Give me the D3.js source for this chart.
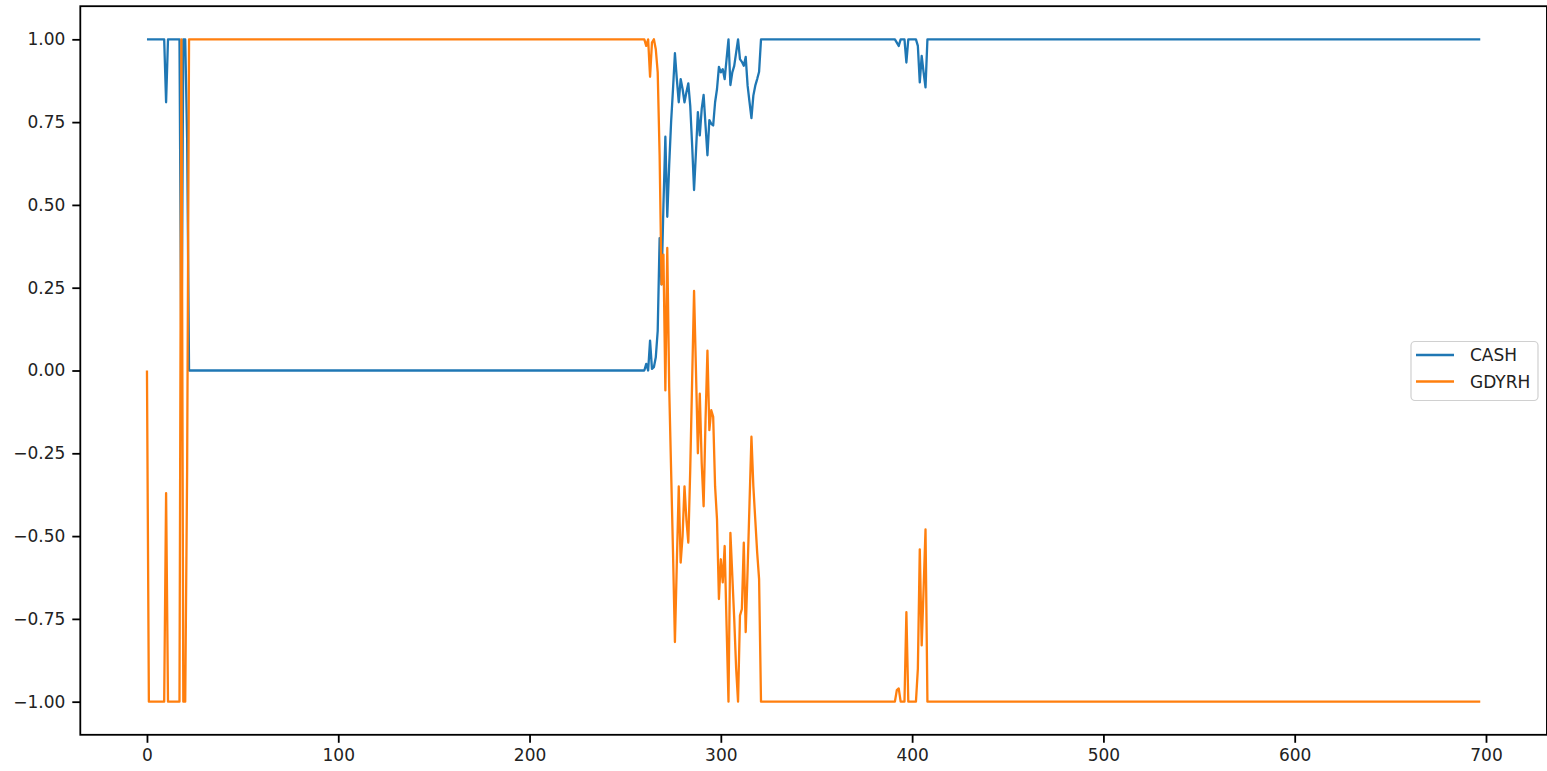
<!DOCTYPE html>
<html><head><meta charset="utf-8">
<script src="https://cdn.jsdelivr.net/npm/d3@7"></script>
<style>body{margin:0;background:#fff}svg{display:block}</style>
</head><body>
<svg id="chart" width="1547" height="771"></svg>
<script>
// Series stored as runs of [value, count] (index 0..697)
const cashRuns = [
  [1,10],[0.81,1],[1,7],[0,1],[1,2],[0.7,1],[0,239],
  [0.02,1],[0,1],[0.09,1],[0.005,1],[0.01,1],[0.04,1],[0.12,1],[0.4,1],[0.26,1],[0.5,1],
  [0.706,1],[0.464,1],[0.62,1],[0.75,1],[0.85,1],[0.958,1],[0.88,1],[0.81,1],[0.88,1],[0.85,1],
  [0.81,1],[0.84,1],[0.867,1],[0.8,1],[0.68,1],[0.545,1],[0.66,1],[0.78,1],[0.71,1],[0.79,1],
  [0.832,1],[0.74,1],[0.65,1],[0.756,1],[0.745,1],[0.74,1],[0.81,1],[0.85,1],[0.917,1],[0.9,1],
  [0.91,1],[0.88,1],[0.94,1],[1,1],[0.862,1],[0.9,1],[0.92,1],[0.96,1],[1,1],[0.94,1],
  [0.932,1],[0.92,1],[0.947,1],[0.86,1],[0.81,1],[0.762,1],[0.83,1],[0.86,1],[0.88,1],[0.902,1],
  [1,71],[0.99,1],[0.98,1],[1,3],[0.93,1],[1,5],[0.98,1],[0.87,1],[0.95,1],[0.9,1],[0.855,1],[1,290]
];
const gdyrhRuns = [
  [0,1],[-1,9],[-0.37,1],[-1,7],[1,1],[-1,2],[-0.3,1],[1,239],
  [0.98,1],[1,1],[0.887,1],[0.99,1],[1,1],[0.97,1],[0.9,1],[0.65,1],[0.26,1],[0.35,1],
  [-0.06,1],[0.37,1],[-0.05,1],[-0.3,1],[-0.55,1],[-0.82,1],[-0.58,1],[-0.35,1],[-0.58,1],[-0.5,1],
  [-0.35,1],[-0.45,1],[-0.52,1],[-0.3,1],[-0.03,1],[0.24,1],[0,1],[-0.25,1],[-0.07,1],[-0.28,1],
  [-0.41,1],[-0.15,1],[0.06,1],[-0.18,1],[-0.12,1],[-0.14,1],[-0.35,1],[-0.45,1],[-0.69,1],[-0.57,1],
  [-0.64,1],[-0.53,1],[-0.77,1],[-1,1],[-0.49,1],[-0.62,1],[-0.75,1],[-0.9,1],[-1,1],[-0.74,1],
  [-0.72,1],[-0.52,1],[-0.79,1],[-0.6,1],[-0.4,1],[-0.2,1],[-0.35,1],[-0.45,1],[-0.55,1],[-0.63,1],
  [-1,71],[-0.965,1],[-0.96,1],[-1,3],[-0.73,1],[-1,5],[-0.9,1],[-0.54,1],[-0.83,1],[-0.66,1],[-0.48,1],[-1,290]
];
const seriesNames = ["CASH", "GDYRH"];
const seriesColors = ["#1f77b4", "#ff7f0e"];
const xTicks = [0, 100, 200, 300, 400, 500, 600, 700];
const yTicks = [-1.00, -0.75, -0.50, -0.25, 0.00, 0.25, 0.50, 0.75, 1.00];

function expand(runs){ const out=[]; runs.forEach(([v,c])=>{ for(let i=0;i<c;i++) out.push(v); }); return out; }
const cash = expand(cashRuns), gdyrh = expand(gdyrhRuns);
const n = cash.length;

const svg = d3.select("#chart");
const xPad = (n-1)*0.05;
const x = d3.scaleLinear().domain([-xPad, (n-1)+xPad]).range([80.3, 80.3 + ((n-1)+2*xPad)*1.9129]);
const y = d3.scaleLinear().domain([-1.1, 1.1]).range([734.8, 6.2]);

const font = "'DejaVu Sans', sans-serif";
const line = d3.line().x((d,i)=>x(i)).y(d=>y(d));

[cash, gdyrh].forEach((s,k)=>{
  svg.append("path").datum(s).attr("d", line)
    .attr("fill","none").attr("stroke", seriesColors[k]).attr("stroke-width", 2.3)
    .attr("stroke-linejoin","round");
});

// frame
const [x0,x1] = x.range(), [y1,y0] = y.range();
svg.append("rect").attr("x",x0).attr("y",y0).attr("width",x1-x0).attr("height",y1-y0)
  .attr("fill","none").attr("stroke","#000").attr("stroke-width",1.8);

const xAxis = d3.axisBottom(x).tickValues(xTicks).tickFormat(d3.format("d")).tickSize(8).tickPadding(6);
const gx = svg.append("g").attr("transform",`translate(0,${y1})`).call(xAxis);
const yAxis = d3.axisLeft(y).tickValues(yTicks).tickFormat(d3.format(".2f")).tickSize(8).tickPadding(7);
const gy = svg.append("g").attr("transform",`translate(${x0},0)`).call(yAxis);
[gx,gy].forEach(g=>{
  g.select(".domain").remove();
  g.selectAll(".tick line").attr("stroke","#000").attr("stroke-width",1.8);
  g.selectAll(".tick text").attr("fill","#222").style("font-family",font).style("font-size","17px");
});

// legend
const lg = svg.append("g");
lg.append("rect").attr("x",1411).attr("y",341.5).attr("width",127).attr("height",59).attr("rx",4)
  .attr("fill","#fff").attr("fill-opacity",0.8).attr("stroke","#d0d0d0").attr("stroke-width",1.2);
seriesNames.forEach((name,k)=>{
  const cy = 355 + k*26.5;
  lg.append("line").attr("x1",1416).attr("x2",1454).attr("y1",cy).attr("y2",cy)
    .attr("stroke",seriesColors[k]).attr("stroke-width",2.3);
  lg.append("text").attr("x",1470).attr("y",cy).attr("dy","0.36em").text(name)
    .style("font-family",font).style("font-size","17px").attr("fill","#222");
});
</script>
</body></html>
